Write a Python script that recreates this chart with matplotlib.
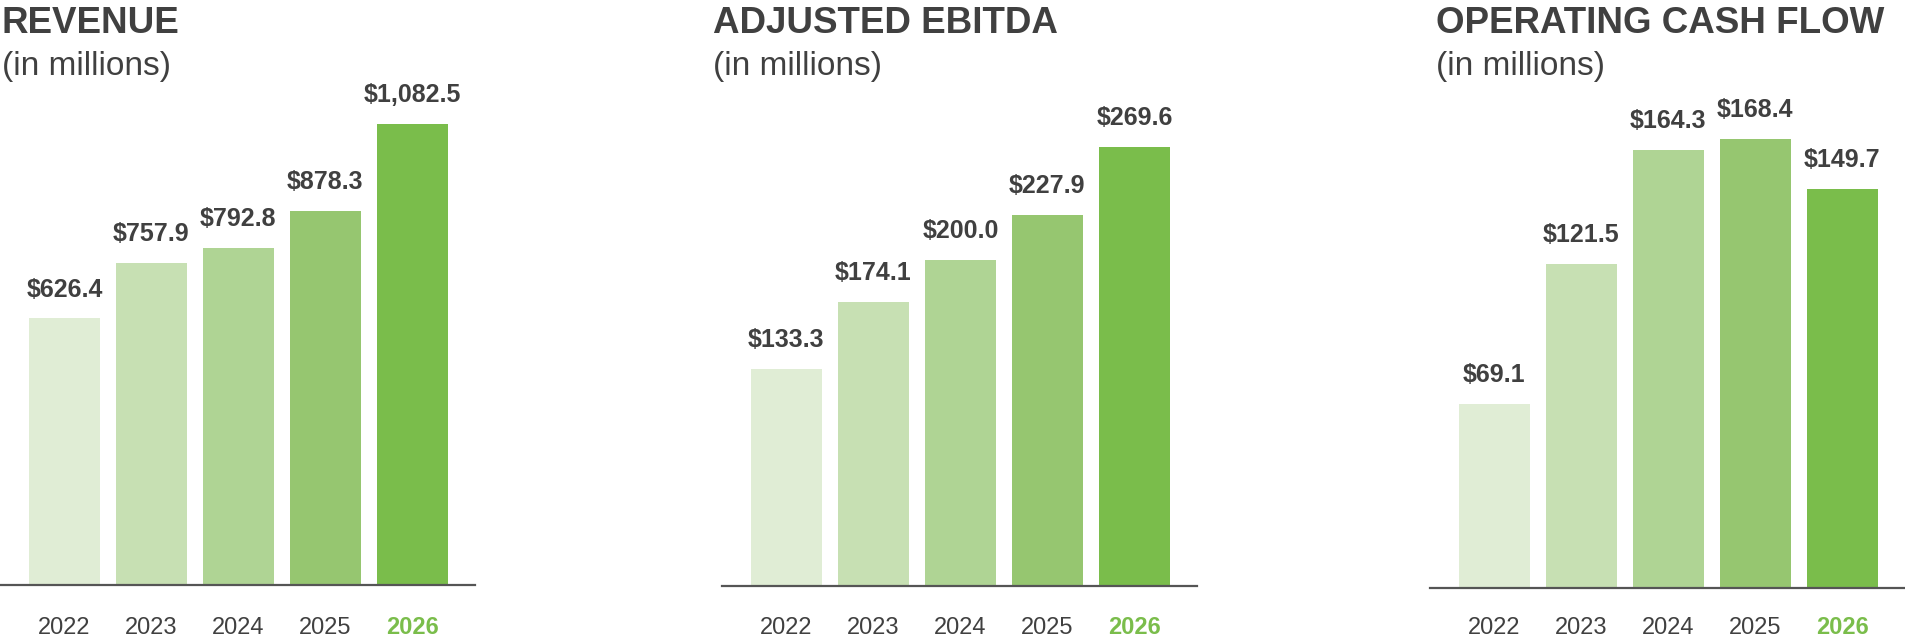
import matplotlib
matplotlib.use('Agg')
import matplotlib.pyplot as plt

plt.rcParams['font.family'] = ['Liberation Sans', 'DejaVu Sans']

years = ['2022', '2023', '2024', '2025', '2026']
revenue = [626.4, 757.9, 792.8, 878.3, 1082.5]
ebitda = [133.3, 174.1, 200.0, 227.9, 269.6]
cash_flow = [69.1, 121.5, 164.3, 168.4, 149.7]

titles = ['REVENUE', 'ADJUSTED EBITDA', 'OPERATING CASH FLOW']
subtitle = '(in millions)'

bar_colors = ['#e0edd5', '#c7e0b3', '#afd494', '#96c670', '#7abd4b']
text_color = '#404040'
green = '#7abd4b'

W, H = 1905, 638
fig = plt.figure(figsize=(W / 100, H / 100), dpi=100)

# left edge (px), baseline (px), px per unit, title x (px)
panels = [
    (0, 585, 0.4255, 2),
    (722, 586, 1.630, 713),
    (1430, 588, 2.666, 1436),
]
series = [revenue, ebitda, cash_flow]

for (left, base, scale, tx), vals, title in zip(panels, series, titles):
    ax = fig.add_axes([left / W, (H - base) / H, 475 / W, base / H])
    x = range(len(years))
    ax.bar(x, vals, width=0.816, color=bar_colors)
    ax.set_xlim(-0.74, 4.72)
    ax.set_ylim(0, base / scale)
    for s in ['top', 'right', 'left']:
        ax.spines[s].set_visible(False)
    ax.spines['bottom'].set_color('#555555')
    ax.spines['bottom'].set_linewidth(1.6)
    ax.set_xticks([])
    ax.set_yticks([])
    ax.patch.set_alpha(0)

    for i, v in enumerate(vals):
        ax.annotate('${:,.1f}'.format(v), (i, v), xytext=(0, 15.8),
                    textcoords='offset points', ha='center', va='baseline',
                    fontsize=18, fontweight='bold', color=text_color,
                    annotation_clip=False)
    for i, yr in enumerate(years):
        last = i == len(years) - 1
        ax.annotate(yr, (i, 0), xytext=(0, -(634 - base) * 0.72),
                    textcoords='offset points', ha='center', va='baseline',
                    fontsize=17, fontweight='bold' if last else 'normal',
                    color=green if last else text_color,
                    annotation_clip=False)

    fig.text(tx / W, 1 - 33 / H, title, fontsize=26.5, fontweight='bold',
             color=text_color, ha='left', va='baseline')
    fig.text(tx / W, 1 - 75 / H, subtitle, fontsize=24, color=text_color,
             ha='left', va='baseline')

fig.savefig('out.png', dpi=100)
